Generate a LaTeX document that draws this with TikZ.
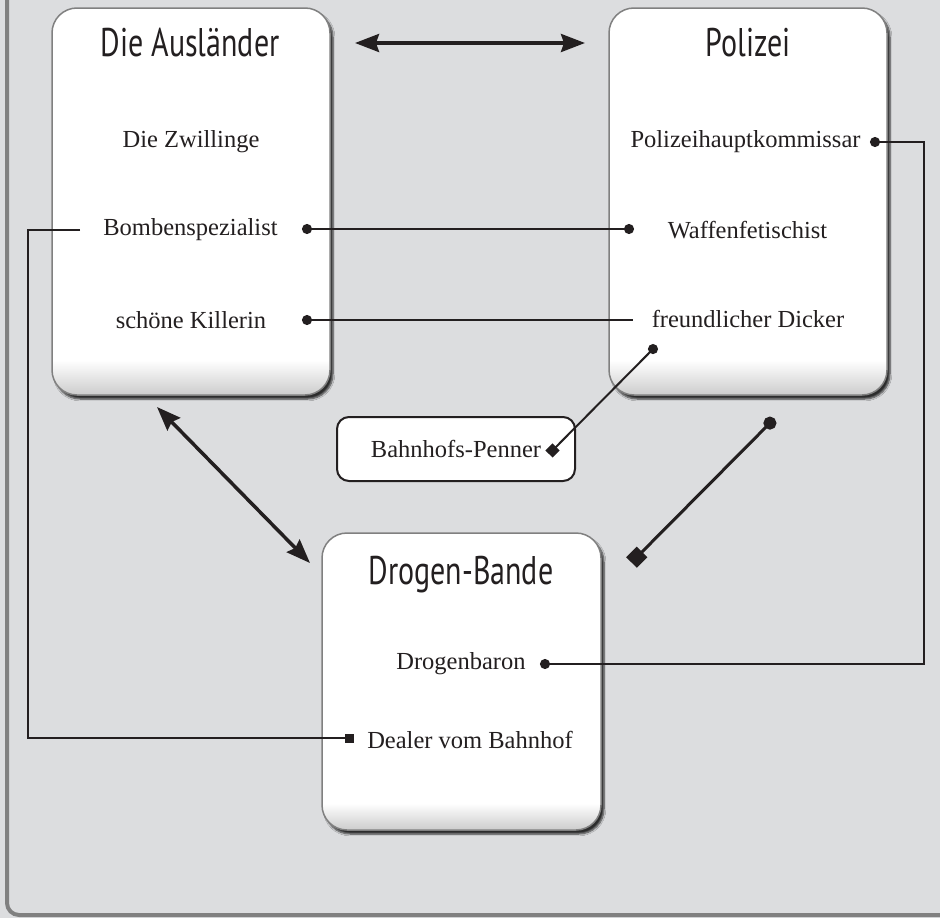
\documentclass[tikz,border=0pt]{standalone}
\usepackage{fontspec}
\setmainfont{Liberation Serif}
\newfontfamily\titlefont[FakeStretch=0.75]{PT Sans}
\usetikzlibrary{arrows.meta,shadows.blur}
\tikzset {>=Stealth}
\definecolor{bgcol}{HTML}{DCDDDF}
\definecolor{framecol}{HTML}{808080}
\definecolor{inkcol}{HTML}{231F20}
\pgfdeclareverticalshading{boxfade}{100bp}{color(0bp)=(black!20); color(25bp)=(black!20);
  color(29.5bp)=(white); color(100bp)=(white)}
\tikzset{
  groupbox/.style={draw=framecol,line width=1.5pt,shade,shading=boxfade,rounded corners=25pt,inner sep=0pt,
    blur shadow={shadow xshift=3pt,shadow yshift=-4pt,shadow blur steps=6,shadow opacity=80}},
  grouptitle/.style={font=\titlefont\fontsize{40}{46}\selectfont,text=inkcol},
  member/.style={font=\fontsize{24.5}{28}\selectfont,text=inkcol},
  link/.style={draw=inkcol,line width=2pt},
  relation/.style={draw=inkcol,line width=3.5pt,<->,>={Stealth[length=24pt,width=18pt,inset=3pt]}},
}

\begin{document}
\begin{tikzpicture}[x=1pt,y=-1pt]
\clip (0,0) rectangle (940,918);
\fill[bgcol] (0,0) rectangle (940,918);
\draw[framecol,line width=4pt,rounded corners=12pt] (7,-20) -- (7,915) -- (960,915);

% the three groups
\node[groupbox,minimum width=278pt,minimum height=387pt] (aus) at (191,201.5) {};
\node[groupbox,minimum width=278pt,minimum height=387pt] (pol) at (748,201.5) {};
\node[groupbox,minimum width=279pt,minimum height=297pt] (dro) at (461.5,681.5) {};
\node[grouptitle] (ausT) at (190,43) {Die Ausländer};
\node[grouptitle] (polT) at (748,43) {Polizei};
\node[grouptitle] (droT) at (461,575) {Drogen-Bande};

% members
\node[member] (zwil) at (191,142) {Die Zwillinge};
\node[member] (bomb) at (190.5,230) {Bombenspezialist};
\node[member] (kill) at (191,320) {schöne Killerin};
\node[member] (komm) at (745.5,142) {Polizeihauptkommissar};
\node[member] (waff) at (747.5,230) {Waffenfetischist};
\node[member] (dick) at (748,319) {freundlicher Dicker};
\node[member] (baron) at (461,664) {Drogenbaron};
\node[member] (deal) at (470,740) {Dealer vom Bahnhof};
\node[member,draw=inkcol,line width=2pt,fill=white,rounded corners=12pt,
  minimum width=238pt,minimum height=64pt] (penn) at (456,449) {Bahnhofs-Penner};

% connector ends
\coordinate (bombR) at (302,229);
\coordinate (waffL) at (634,229);
\coordinate (killR) at (302,320);
\coordinate (dickL) at (633,320);
\coordinate (dickB) at (656.5,345.5);
\coordinate (pennR) at (549,454);
\coordinate (kommR) at (870,142);
\coordinate (baronR) at (540,664);
\coordinate (bombL) at (80,230);
\coordinate (dealL) at (353.5,738);
\coordinate (ausR) at (355,43);
\coordinate (polL) at (585,43);
\coordinate (ausB) at (157,407);
\coordinate (droL) at (310,563);
\coordinate (polB) at (774.5,418.5);
\coordinate (droR) at (631.5,562.5);

\draw[relation] (ausR) -- (polL);
\draw[relation] (ausB) -- (droL);
\draw[link,line width=3pt,{Circle[length=13pt]}-{Square[length=15pt,width=15pt]}] (polB) -- (droR);
\draw[link,{Circle[length=10pt]}-{Circle[length=10pt]}] (bombR) -- (waffL);
\draw[link,{Circle[length=10pt]}-] (killR) -- (dickL);
\draw[link,{Circle[length=10pt]}-{Square[length=10pt,width=10pt]}] (dickB) -- (pennR);
\draw[link,{Circle[length=10pt]}-{Circle[length=10pt]}] (kommR) -- ++(54,0) |- (baronR);
\draw[link,-{Square[length=9pt,width=9pt]}] (bombL) -- ++(-52,0) |- (dealL);
\end{tikzpicture}
\end{document}
